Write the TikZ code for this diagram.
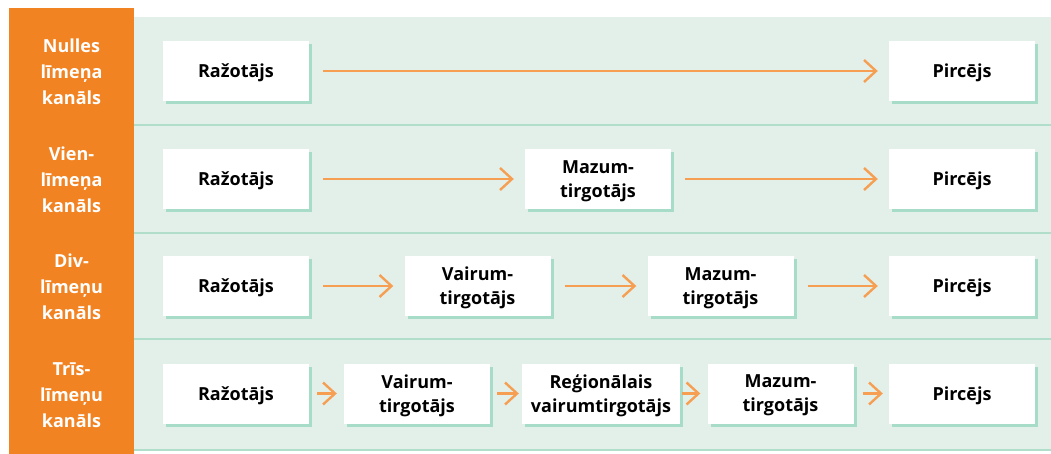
\documentclass[tikz,border=0pt]{standalone}
\usepackage{fontspec}
\setmainfont{Open Sans}
\usetikzlibrary{arrows.meta,shadows}

\definecolor{chanorange}{RGB}{242,131,34}
\definecolor{arroworange}{RGB}{246,158,82}
\definecolor{bggreen}{RGB}{226,240,233}
\definecolor{linegreen}{RGB}{176,222,203}
\definecolor{shadowgreen}{RGB}{166,220,200}
\newcommand{\chanfont}{\fontsize{18}{24}\selectfont\bfseries}

\begin{document}
\begin{tikzpicture}[x=1pt, y=-1pt,
  box/.style={fill=white, minimum width=146pt, minimum height=60pt, inner sep=2pt,
    align=center, font=\chanfont, text depth=0pt,
    drop shadow={shadow xshift=3pt, shadow yshift=-3pt, fill=shadowgreen, opacity=1}},
  lbl/.style={text=white, align=center, font=\fontsize{18}{26}\selectfont\bfseries},
  arr/.style={draw=arroworange, line width=2.4pt,
    -{Straight Barb[length=12pt, width=22pt]}, shorten <=14pt, shorten >=11pt},
  sepline/.style={draw=linegreen, line width=2pt}]
\useasboundingbox (0,0) rectangle (1051,454);

% background and channel column
\fill[bggreen] (134,17) rectangle (1051,450);
\fill[chanorange] (9,8) rectangle (134,454);
\foreach \y in {125,233,339,450}
  \draw[sepline] (134,\y) -- (1051,\y);

% channel names
\node[lbl] (l1) at (71.5,72) {Nulles\\līmeņa\\kanāls};
\node[lbl] (l2) at (71.5,180) {Vien-\\līmeņa\\kanāls};
\node[lbl] (l3) at (71.5,287) {Div-\\līmeņu\\kanāls};
\node[lbl] (l4) at (71.5,395) {Trīs-\\līmeņu\\kanāls};

% zero level
\node[box] (r1p) at (236,71) {Ražotājs};
\node[box] (r1c) at (962,71) {Pircējs};
\draw[arr] (r1p) -- (r1c);

% one level
\node[box] (r2p) at (236,179) {Ražotājs};
\node[box] (r2m) at (598,179) {Mazum-\\tirgotājs};
\node[box] (r2c) at (962,179) {Pircējs};
\draw[arr] (r2p) -- (r2m);
\draw[arr] (r2m) -- (r2c);

% two levels
\node[box] (r3p) at (236,286) {Ražotājs};
\node[box] (r3v) at (477.5,286) {Vairum-\\tirgotājs};
\node[box] (r3m) at (720.5,286) {Mazum-\\tirgotājs};
\node[box] (r3c) at (962,286) {Pircējs};
\draw[arr] (r3p) -- (r3v);
\draw[arr] (r3v) -- (r3m);
\draw[arr] (r3m) -- (r3c);

% three levels
\node[box] (r4p) at (236,393.5) {Ražotājs};
\node[box] (r4v) at (417,393.5) {Vairum-\\tirgotājs};
\node[box, minimum width=158pt] (r4r) at (601,393.5) {Reģionālais\\vairumtirgotājs};
\node[box] (r4m) at (780.5,393.5) {Mazum-\\tirgotājs};
\node[box] (r4c) at (962,393.5) {Pircējs};
\draw[arr, shorten <=8pt, shorten >=7pt] (r4p) -- (r4v);
\draw[arr, shorten <=7pt, shorten >=3pt] (r4v) -- (r4r);
\draw[arr, shorten <=2pt, shorten >=7pt] (r4r) -- (r4m);
\draw[arr, shorten <=9pt, shorten >=6pt] (r4m) -- (r4c);
\end{tikzpicture}
\end{document}
